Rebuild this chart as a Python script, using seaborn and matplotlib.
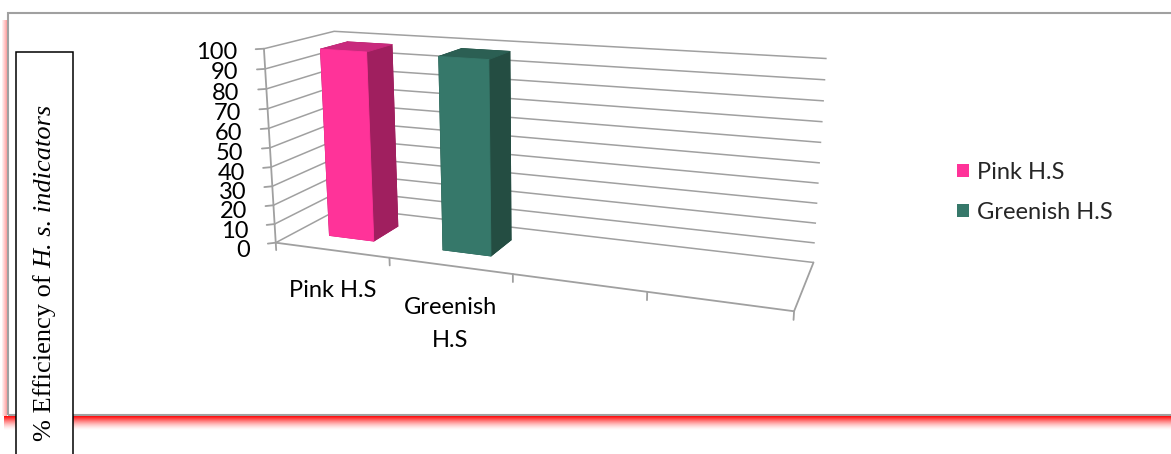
import textwrap
import numpy as np
import pandas as pd
import matplotlib
matplotlib.use("Agg")
import matplotlib.pyplot as plt
from matplotlib.patches import Rectangle, Patch
from mpl_toolkits.mplot3d import proj3d
import seaborn as sns

# ---------------- data ----------------
categories = ["Pink H.S", "Greenish H.S"]
values = [98, 98]
n_slots = 4                       # category slots on the floor (2 used, 2 empty)
value_ticks = list(range(0, 101, 10))
title_plain = "% Efficiency of "
title_italic = "H. s. indicators"

# ---------------- styles ----------------
col_front = ["#FF3399", "#36786A"]
col_top = ["#C92A7D", "#2B5F53"]
col_side = ["#A01F5F", "#244D42"]
gray = "#a0a0a0"

sns.set_theme(style="white", rc={"xtick.bottom": True, "ytick.left": True})
plt.rcParams["font.family"] = ["Lato", "DejaVu Sans"]

W_PX, H_PX = 1171, 454
fig = plt.figure(figsize=(W_PX / 100, H_PX / 100), dpi=100, facecolor="white")


def fx(px):
    return px / W_PX


def fy(py):
    return 1 - py / H_PX


df = pd.DataFrame({"category": categories, "value": values})

ax = fig.add_axes([0.2, 0.1, 0.5, 0.8], projection="3d")
ax.set_proj_type("persp", focal_length=0.359)
ax.view_init(elev=14.2, azim=-69.4)
ax.set_box_aspect((459.4, 116.6, 175.7))
ax.set_xlim(0, n_slots)
ax.set_ylim(0, 1)
ax.set_zlim(0, 100)
ax.set_facecolor((1, 1, 1, 0))
ax.grid(True)

for axis in (ax.xaxis, ax.yaxis, ax.zaxis):
    axis.pane.set_facecolor((1, 1, 1, 0))
    axis.pane.set_edgecolor((1, 1, 1, 0))
    axis.line.set_color(gray)
    axis.line.set_linewidth(1.3)
    axis._axinfo["grid"].update(color=gray, linewidth=1.1, linestyle="-")
    axis._axinfo["tick"]["inward_factor"] = 0.0
    axis._axinfo["tick"]["outward_factor"] = 0.0

# value axis: gridlines from the library, the axis itself on the front-left edge
ax.set_xticks([])
ax.set_yticks([])
ax.set_zticks(value_ticks)
ax.set_zticklabels([""] * len(value_ticks))
ax.zaxis.line.set_visible(False)
ax.plot([0, 0], [0, 0], [0, 100], color=gray, lw=1.3)
for v in value_ticks:
    ax.plot([0, -0.045], [0, -0.04], [v, v], color=gray, lw=1.3)

# bars (front face, top, right side)
bar_w = 0.4
d0, d1 = 0.3, 0.7
for i, row in df.iterrows():
    faces = [col_top[i], col_top[i], col_front[i], col_side[i], col_side[i], col_side[i]]
    ax.bar3d(i + 0.5 - bar_w / 2, d0, 0, bar_w, d1 - d0, row["value"],
             color=faces, edgecolor=faces, linewidth=0.6, shade=False)

# category boundary tick marks on the floor front edge
for k in range(n_slots + 1):
    ax.plot([k, k], [0, 0], [0, -4], color=gray, lw=1.3)

# ---------------- calibrate axes placement ----------------
fig.canvas.draw()
anchors = [(0, 0, 0), (0, 0, 100), (0, 1, 100), (n_slots, 1, 100), (n_slots, 1, 0), (n_slots, 0, 0)]
targets = np.array([(277, 243), (263, 50), (333, 32), (828, 58), (813, 262), (794, 310)], float)
targets[:, 1] = H_PX - targets[:, 1]


def to_display(x, y, z):
    px_, py_, _ = proj3d.proj_transform(x, y, z, ax.get_proj())
    return ax.transData.transform((px_, py_))


pts = np.array([to_display(*a) for a in anchors])
dm, tm = pts.mean(0), targets.mean(0)
s = ((pts - dm) * (targets - tm)).sum() / ((pts - dm) ** 2).sum()
c = tm - s * dm
pos = ax.get_position()
x0, y0 = pos.x0 * W_PX, pos.y0 * H_PX
w, h = pos.width * W_PX, pos.height * H_PX
ax.set_position([(s * x0 + c[0]) / W_PX, (s * y0 + c[1]) / H_PX, s * w / W_PX, s * h / H_PX])
fig.canvas.draw()


def to_fig(x, y, z):
    d = to_display(x, y, z)
    return d[0] / W_PX, d[1] / H_PX


# value tick labels (placed at the projected tick positions)
for v in value_ticks:
    lx, ly = to_fig(-0.085, -0.217, v)
    fig.text(lx, ly, str(v), ha="right", va="center", fontsize=17, color="black")

# category labels under each slot
for i, cat in enumerate(df["category"]):
    lx, ly = to_fig(i + 0.5, 0, -16)
    fig.text(lx, ly, textwrap.fill(cat, 9), ha="center", va="top",
             fontsize=17, linespacing=1.7, color="black")

# ---------------- legend ----------------
handles = [Patch(facecolor=col_front[i], edgecolor="none", label=cat) for i, cat in enumerate(categories)]
fig.legend(handles=handles, loc="center left", bbox_to_anchor=(fx(957), fy(192.5)),
           frameon=False, fontsize=17, handlelength=0.5, handleheight=0.5,
           handletextpad=0.35, labelspacing=0.8, borderaxespad=0, borderpad=0)

# ---------------- frame with red shadow ----------------
for k in range(14):
    a = 0.95 * (1 - k / 14) ** 1.6
    fig.patches.append(Rectangle((fx(4), fy(416 + k + 1)), fx(1180) - fx(4), 1 / H_PX,
                                 transform=fig.transFigure, facecolor="red",
                                 edgecolor="none", alpha=a, zorder=1))
for k in range(5):
    a = 0.35 * (1 - k / 5)
    fig.patches.append(Rectangle((fx(7 - k - 1), fy(416)), 1 / W_PX, fy(20) - fy(416),
                                 transform=fig.transFigure, facecolor="red",
                                 edgecolor="none", alpha=a, zorder=1))
fig.patches.append(Rectangle((fx(8), fy(415)), fx(1185) - fx(8), fy(13) - fy(415),
                             transform=fig.transFigure, fill=False, edgecolor=gray,
                             lw=1.5, zorder=2))

# ---------------- boxed axis title (plain + italic part) ----------------
fig.patches.append(Rectangle((fx(16), fy(470)), fx(73) - fx(16), fy(52) - fy(470),
                             transform=fig.transFigure, facecolor="white",
                             edgecolor="black", lw=1.1, zorder=5))
t1 = fig.text(fx(51.5), fy(441), title_plain, rotation=90, rotation_mode="anchor",
              ha="left", va="baseline", fontsize=19, family="Liberation Serif",
              color="black", zorder=6)
fig.canvas.draw()
bb = t1.get_window_extent(renderer=fig.canvas.get_renderer())
fig.text(fx(51.5), fy(441) + bb.height / H_PX, title_italic, rotation=90,
         rotation_mode="anchor", ha="left", va="baseline", fontsize=19,
         family="Liberation Serif", style="italic", color="black", zorder=6)

fig.savefig("out.png", dpi=100, facecolor="white")
